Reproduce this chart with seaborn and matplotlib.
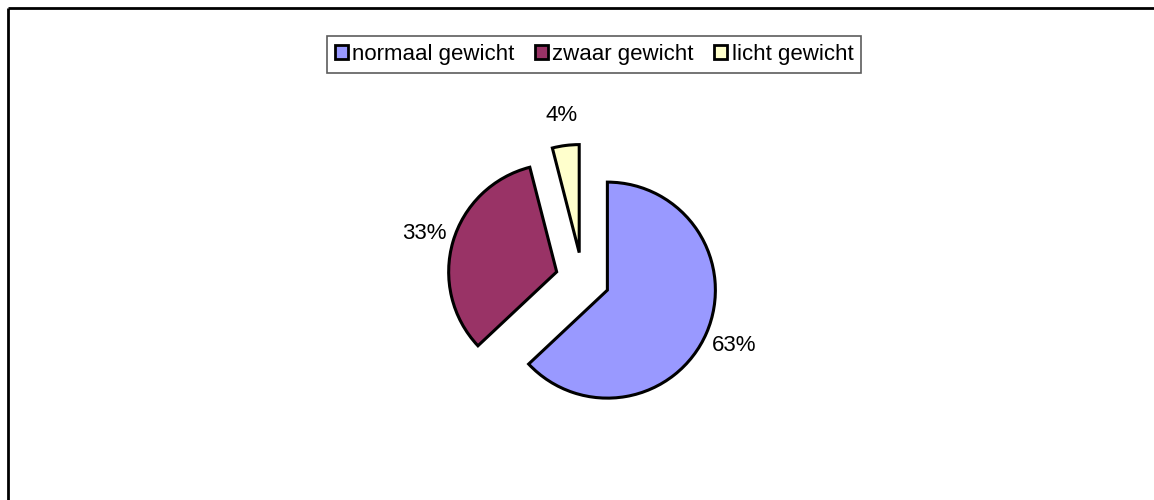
import matplotlib
matplotlib.use("Agg")
import matplotlib.pyplot as plt
import seaborn as sns

labels = ["normaal gewicht", "zwaar gewicht", "licht gewicht"]
percentages = [63, 33, 4]
colors = ["#9999FF", "#993366", "#FFFFCC"]

sns.set_theme(style="white")
plt.rcParams["font.family"] = ["Liberation Sans", "DejaVu Sans"]
plt.rcParams["text.color"] = "black"

W, H = 1154, 500
R = 108
fig = plt.figure(figsize=(W / 100, H / 100), dpi=100)
ax = fig.add_axes([0, 0, 1, 1])

# matplotlib's explode offset is in data units, so scale it by the radius
wedges, texts, autotexts = ax.pie(
    percentages, colors=colors, startangle=90, counterclock=False,
    explode=[0.25 * R] * 3, center=(582.6, H - 279.4), radius=R,
    autopct="%d%%", pctdistance=1.28, frame=True,
    wedgeprops=dict(edgecolor="black", linewidth=2.2),
    textprops=dict(fontsize=16, color="black"),
)
ax.set_xlim(0, W)
ax.set_ylim(0, H)
ax.set_aspect("equal")
ax.axis("off")

# outer chart border (top and left visible)
ax.plot([8, W], [H - 8, H - 8], color="black", lw=2, solid_capstyle="butt")
ax.plot([8, 8], [H - 8, 0], color="black", lw=2, solid_capstyle="butt")

leg = ax.legend(wedges, labels, loc="upper center", bbox_to_anchor=(594 / W, 1 - 36 / H),
                ncol=3, frameon=True, fancybox=False, fontsize=16,
                handlelength=0.6, handleheight=0.6, handletextpad=0.2,
                columnspacing=0.9, borderpad=0.35, borderaxespad=0)
leg.get_frame().set_edgecolor("#333333")
leg.get_frame().set_linewidth(1.2)
for h in leg.legend_handles:
    h.set_linewidth(2)
for t in leg.get_texts():
    t.set_color("black")

fig.savefig("out.png", dpi=100)
